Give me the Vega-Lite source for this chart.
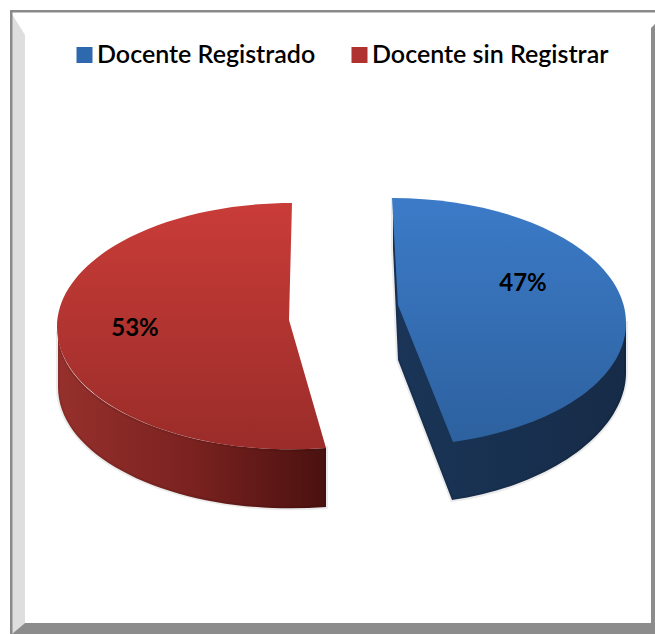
{
"$schema":"https://vega.github.io/schema/vega-lite/v6.json",
"width":655,"height":634,"padding":0,"autosize":{"type":"none"},"background":"white",
"config":{"view":{"stroke":null}},
"data":{"values":[{"categoria":"Docente Registrado","porcentaje":47,"etiqueta":"47%"},{"categoria":"Docente sin Registrar","porcentaje":53,"etiqueta":"53%"}]},
"layer":[
{"data":{"values":[{"parte":"bisel"},{"parte":"base"},{"parte":"borde"},{"parte":"derecha"}]},
 "mark":{"type":"point","filled":true,"size":4,"opacity":1},
 "encoding":{"x":{"value":0},"y":{"value":0},
  "shape":{"field":"parte","type":"nominal","legend":null,"scale":{"domain":["bisel","base","borde","derecha"],"range":["M12,14 L25,35 L25,623 L12,634 Z","M12,634 L25,623 L651,623 L655,619 L655,634 Z","M10,10 L655,10 L655,12.5 L12.5,12.5 L12.5,634 L10,634 Z","M651,28 L655,24 L655,634 L651,634 Z"]}},
  "color":{"field":"parte","type":"nominal","legend":null,"scale":{"domain":["bisel","base","borde","derecha"],"range":["#dedede","#8c8c8c","#8a8a8a","#8c8c8c"]}}}},
{"transform":[{"filter":"datum.categoria === 'Docente Registrado'"}],
 "mark":{"type":"point","filled":true,"size":4,"opacity":1,"stroke":"#000000","strokeOpacity":0.08,"strokeWidth":4,"shape":"M234,0 L234,50 C234,106 163,162 60,177 L6,37 L1,-75 L1,-120 L100,0 Z",
  "fill":{"gradient":"linear","x1":0,"y1":0,"x2":1,"y2":0,"stops":[{"offset":0,"color":"#1a3558"},{"offset":1,"color":"#162b47"}]}},
 "encoding":{"x":{"field":"categoria","type":"nominal","axis":null,"scale":{"range":[392,392]}},"y":{"field":"categoria","type":"nominal","axis":null,"scale":{"range":[323,323]}}}},
{"transform":[{"filter":"datum.categoria === 'Docente sin Registrar'"}],
 "mark":{"type":"point","filled":true,"size":4,"opacity":1,"stroke":"#000000","strokeOpacity":0.08,"strokeWidth":4,"shape":"M-234,4 L-234,59 C-235,134.6 -107.8,190.9 34,180 L34,121 C-107.8,131.9 -234,75.6 -234,4 Z",
  "fill":{"gradient":"linear","x1":0,"y1":0,"x2":1,"y2":0,"stops":[{"offset":0,"color":"#96302c"},{"offset":0.5,"color":"#7a2220"},{"offset":1,"color":"#4a110f"}]}},
 "encoding":{"x":{"field":"categoria","type":"nominal","axis":null,"scale":{"range":[292,292]}},"y":{"field":"categoria","type":"nominal","axis":null,"scale":{"range":[327,327]}}}},
{"mark":{"type":"point","filled":true,"size":100,"opacity":1,"shape":"square"},
 "encoding":{
  "x":{"field":"categoria","type":"nominal","axis":null,"scale":{"domain":["Docente Registrado","Docente sin Registrar"],"range":[480,180],"padding":0}},
  "y":{"field":"categoria","type":"nominal","axis":null,"scale":{"domain":["Docente Registrado","Docente sin Registrar"],"range":[323,327],"padding":0}},
  "color":{"field":"categoria","type":"nominal","scale":{"domain":["Docente Registrado","Docente sin Registrar"],"range":["#2f69ad","#b03230"]},
   "legend":{"title":null,"orient":"none","legendX":72,"legendY":38,"direction":"horizontal","columns":2,"symbolType":"square","symbolSize":256,"symbolStrokeWidth":0,"symbolOpacity":1,"labelFont":"Lato","labelFontSize":25,"labelFontWeight":600,"labelColor":"#000000","labelLimit":400,"labelOffset":0,"columnPadding":31,"clipHeight":34}}}},
{"transform":[{"filter":"datum.categoria === 'Docente Registrado'"}],
 "mark":{"type":"point","filled":true,"size":4,"opacity":1,"shape":"M0,-125 C129,-125 234,-69 234,0 C234,56.5 163.2,104.3 61,119 L6,-18 Z",
  "fill":{"gradient":"linear","x1":0,"y1":0,"x2":0,"y2":1,"stops":[{"offset":0,"color":"#3c7bc8"},{"offset":1,"color":"#2d619f"}]}},
 "encoding":{"x":{"field":"categoria","type":"nominal","axis":null,"scale":{"range":[392,392]}},"y":{"field":"categoria","type":"nominal","axis":null,"scale":{"range":[323,323]}}}},
{"transform":[{"filter":"datum.categoria === 'Docente sin Registrar'"}],
 "mark":{"type":"point","filled":true,"size":4,"opacity":1,"shape":"M0,-124 C-129.8,-124 -235,-68.5 -235,0 C-235,75.6 -107.8,131.9 34,121 L-3,-7 Z",
  "fill":{"gradient":"linear","x1":0,"y1":0,"x2":0,"y2":1,"stops":[{"offset":0,"color":"#c93c38"},{"offset":1,"color":"#9a2c29"}]}},
 "encoding":{"x":{"field":"categoria","type":"nominal","axis":null,"scale":{"range":[292,292]}},"y":{"field":"categoria","type":"nominal","axis":null,"scale":{"range":[327,327]}}}},
{"mark":{"type":"text","font":"Lato","fontWeight":"bold","fontSize":24,"color":"#000000","align":"center","baseline":"middle","dy":1},
 "encoding":{
  "x":{"field":"categoria","type":"nominal","axis":null,"scale":{"domain":["Docente Registrado","Docente sin Registrar"],"range":[523,135],"padding":0}},
  "y":{"field":"categoria","type":"nominal","axis":null,"scale":{"domain":["Docente Registrado","Docente sin Registrar"],"range":[283,328],"padding":0}},
  "text":{"field":"etiqueta","type":"nominal"}}}
],
"resolve":{"scale":{"x":"independent","y":"independent","color":"independent","shape":"independent"}}
}
